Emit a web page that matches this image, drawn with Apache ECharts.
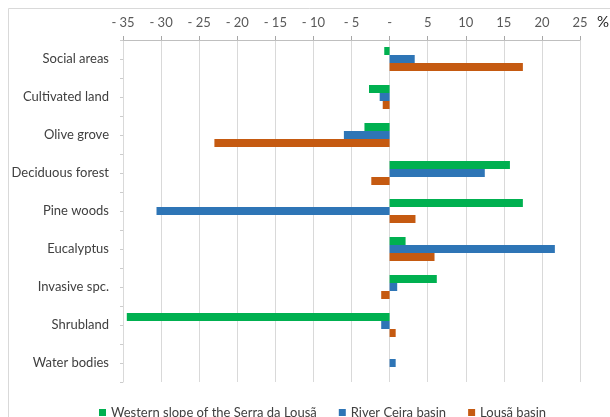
<!DOCTYPE html>
<html>
<head>
<meta charset="utf-8">
<script src="https://cdn.jsdelivr.net/npm/echarts@6/dist/echarts.min.js"></script>
<style>
html,body{margin:0;padding:0;background:#fff;}
#chart{width:610px;height:417px;}
</style>
</head>
<body>
<div id="chart"></div>
<script>
var categories = ['Social areas','Cultivated land','Olive grove','Deciduous forest','Pine woods','Eucalyptus','Invasive spc.','Shrubland','Water bodies'];
var westernSlope = [-0.7, -2.7, -3.3, 15.8, 17.5, 2.1, 6.2, -34.5, 0];
var ceiraBasin = [3.3, -1.3, -6.0, 12.5, -30.6, 21.7, 1.0, -1.1, 0.8];
var lousaBasin = [17.5, -0.9, -23.0, -2.4, 3.4, 5.9, -1.1, 0.8, 0];
var seriesNames = ['Western slope of the Serra da Lousã', 'River Ceira basin', 'Lousã basin'];
var colors = ['#00B050', '#2E75B6', '#C55A11'];

var font = 'Lato, "Open Sans", sans-serif';
var chart = echarts.init(document.getElementById('chart'), null, {renderer: 'canvas'});

function fmt(v) {
  if (v === 0) return '-';
  if (v < 0) return '- ' + Math.abs(v);
  return String(v);
}

var option = {
  animation: false,
  backgroundColor: '#ffffff',
  color: colors,
  textStyle: {fontFamily: font},
  grid: {left: 123, right: 30, top: 40, bottom: 35, containLabel: false},
  graphic: [
    {type: 'rect', silent: true, z: -1, shape: {x: 8.5, y: 8.5, width: 640, height: 440},
     style: {fill: 'none', stroke: '#d9d9d9', lineWidth: 1}},
    {type: 'text', left: 597, top: 15, silent: true,
     style: {text: '%', fill: '#262626', font: '15px ' + font}}
  ],
  legend: {
    show: true,
    top: 401,
    left: 94,
    itemWidth: 7,
    itemHeight: 7,
    itemGap: 22,
    icon: 'rect',
    textStyle: {fontFamily: font, fontSize: 13, color: '#404040'},
    data: seriesNames
  },
  xAxis: {
    type: 'value',
    position: 'top',
    min: -35,
    max: 25,
    interval: 5,
    axisLine: {show: true, lineStyle: {color: '#bfbfbf'}},
    axisTick: {show: true, length: 4, lineStyle: {color: '#a6a6a6'}},
    splitLine: {show: true, lineStyle: {color: '#d9d9d9'}},
    axisLabel: {margin: 11, color: '#595959', fontSize: 13, fontFamily: font, formatter: fmt}
  },
  yAxis: [
    {
      type: 'category',
      position: 'left',
      inverse: true,
      data: categories,
      axisLine: {show: false},
      axisTick: {show: false},
      axisLabel: {margin: 14, color: '#404040', fontSize: 13, fontFamily: font}
    },
    {
      type: 'category',
      position: 'left',
      inverse: true,
      data: categories,
      axisLine: {show: true, onZero: true, lineStyle: {color: '#d9d9d9'}},
      axisTick: {show: true, length: 3, lineStyle: {color: '#cccccc'}},
      axisLabel: {show: false}
    },
    {
      type: 'category',
      position: 'left',
      inverse: true,
      data: categories,
      axisLine: {show: false, onZero: true},
      axisTick: {show: true, alignWithLabel: true, length: 3, lineStyle: {color: '#cccccc'}},
      axisLabel: {show: false}
    }
  ],
  series: [
    {name: seriesNames[0], type: 'bar', yAxisIndex: 0, data: westernSlope, barWidth: 8, barGap: '0%'},
    {name: seriesNames[1], type: 'bar', yAxisIndex: 0, data: ceiraBasin, barWidth: 8, barGap: '0%'},
    {name: seriesNames[2], type: 'bar', yAxisIndex: 0, data: lousaBasin, barWidth: 8, barGap: '0%'}
  ]
};
chart.setOption(option);
</script>
</body>
</html>
